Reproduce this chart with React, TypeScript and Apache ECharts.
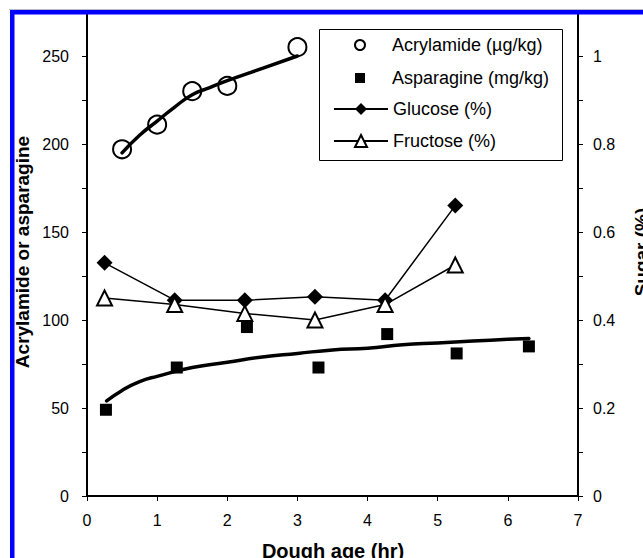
import React, { useEffect, useRef } from "react";
import * as echarts from "echarts";

// Acrylamide (µg/kg) measured points
const acrylamideHours = [0.5, 1, 1.5, 2, 3];
const acrylamideValues = [197, 211, 230, 233, 255];
// Acrylamide trend line
const acrylamideTrendHours = [0.5, 0.75, 1, 1.25, 1.5, 1.75, 2, 2.5, 3];
const acrylamideTrendValues = [195, 205, 213, 221, 228, 232, 236, 243, 250];

// Asparagine (mg/kg) measured points
const asparagineHours = [0.27, 1.28, 2.28, 3.3, 4.28, 5.27, 6.3];
const asparagineValues = [49, 73, 96, 73, 92, 81, 85];
// Asparagine trend line
const asparagineTrendHours = [0.28, 0.5, 0.75, 1, 1.5, 2, 2.5, 3, 3.5, 4, 4.5, 5, 5.5, 6, 6.3];
const asparagineTrendValues = [54, 60, 65, 68, 73, 76, 79, 81, 83, 84, 86, 87, 88, 89, 89.5];

// Sugars (%)
const sugarHours = [0.25, 1.25, 2.25, 3.25, 4.25, 5.25];
const glucoseValues = [0.53, 0.445, 0.445, 0.453, 0.445, 0.66];
const fructoseValues = [0.45, 0.435, 0.415, 0.4, 0.435, 0.525];

const xTicks = [0, 1, 2, 3, 4, 5, 6, 7];

const NAMES = {
  acryl: "Acrylamide (µg/kg)",
  aspar: "Asparagine (mg/kg)",
  glu: "Glucose (%)",
  fru: "Fructose (%)",
};

const pairs = (xs: number[], ys: number[]) => xs.map((x, i) => [x, ys[i]]);

const FONT = "'Liberation Sans', Arial, sans-serif";

export default function App() {
  const ref = useRef<HTMLDivElement>(null);

  useEffect(() => {
    if (!ref.current) return;
    const chart = echarts.init(ref.current, undefined, { renderer: "svg" });
    const axisLabelBase = { color: "#000", fontSize: 16, fontFamily: FONT };
    const tickBase = { show: true, length: 5, lineStyle: { color: "#000", width: 1 } };
    const legendText = { color: "#000", fontSize: 18, fontFamily: FONT };

    chart.setOption({
      animation: false,
      backgroundColor: "#fff",
      grid: { left: 87, right: 65, top: 12, bottom: 62, outerBoundsMode: "none" },
      xAxis: {
        type: "value",
        min: xTicks[0],
        max: xTicks[xTicks.length - 1],
        interval: 1,
        axisLine: { show: true, lineStyle: { color: "#000", width: 2 } },
        axisTick: tickBase,
        splitLine: { show: false },
        axisLabel: { ...axisLabelBase, margin: 16 },
      },
      yAxis: [
        {
          type: "value",
          position: "left",
          min: 0,
          max: 275,
          interval: 25,
          axisLine: { show: true, lineStyle: { color: "#000", width: 2 } },
          axisTick: tickBase,
          splitLine: { show: false },
          axisLabel: {
            ...axisLabelBase,
            margin: 18,
            formatter: (v: number) => (Math.round(v) % 50 === 0 && v <= 250 ? String(Math.round(v)) : ""),
          },
        },
        {
          type: "value",
          position: "right",
          min: 0,
          max: 1.1,
          interval: 0.1,
          axisLine: { show: true, lineStyle: { color: "#000", width: 2 } },
          axisTick: tickBase,
          splitLine: { show: false },
          axisLabel: {
            ...axisLabelBase,
            margin: 15,
            formatter: (v: number) => {
              const t = Math.round(v * 10);
              return t % 2 === 0 && t <= 10 ? String(t / 10) : "";
            },
          },
        },
      ],
      legend: [
        {
          data: [
            { name: NAMES.acryl },
            { name: NAMES.aspar, icon: "path://M0,0L10,0L10,10L0,10Z" },
          ],
          orient: "vertical",
          left: 354,
          top: 36,
          padding: 0,
          itemWidth: 54,
          itemHeight: 10,
          itemGap: 15,
          selectedMode: false,
          textStyle: legendText,
        },
        {
          data: [NAMES.glu, NAMES.fru],
          orient: "vertical",
          left: 333,
          top: 100,
          padding: 0,
          itemWidth: 54,
          itemHeight: 15,
          itemGap: 14,
          selectedMode: false,
          textStyle: legendText,
        },
      ],
      series: [
        {
          name: NAMES.acryl,
          type: "scatter",
          yAxisIndex: 0,
          symbol: "circle",
          symbolSize: 18,
          itemStyle: { color: "#fff", borderColor: "#000", borderWidth: 2, opacity: 1 },
          data: pairs(acrylamideHours, acrylamideValues),
        },
        {
          name: "Acrylamide trend",
          type: "line",
          yAxisIndex: 0,
          smooth: true,
          symbol: "none",
          lineStyle: { color: "#000", width: 3.5, cap: "round" },
          data: pairs(acrylamideTrendHours, acrylamideTrendValues),
        },
        {
          name: "Asparagine trend",
          type: "line",
          yAxisIndex: 0,
          smooth: true,
          symbol: "none",
          lineStyle: { color: "#000", width: 3.5, cap: "round" },
          data: pairs(asparagineTrendHours, asparagineTrendValues),
        },
        {
          name: NAMES.aspar,
          type: "scatter",
          yAxisIndex: 0,
          symbol: "rect",
          symbolSize: 12,
          itemStyle: { color: "#000", opacity: 1 },
          data: pairs(asparagineHours, asparagineValues),
        },
        {
          name: NAMES.glu,
          type: "line",
          yAxisIndex: 1,
          symbol: "diamond",
          symbolSize: 16,
          showAllSymbol: true,
          itemStyle: { color: "#000" },
          lineStyle: { color: "#000", width: 1.5 },
          data: pairs(sugarHours, glucoseValues),
        },
        {
          name: NAMES.fru,
          type: "line",
          yAxisIndex: 1,
          symbol: "triangle",
          symbolSize: 15,
          showAllSymbol: true,
          itemStyle: { color: "#fff", borderColor: "#000", borderWidth: 2 },
          lineStyle: { color: "#000", width: 1.5 },
          data: pairs(sugarHours, fructoseValues),
        },
      ],
      graphic: [
        {
          type: "rect",
          z: 50,
          shape: { x: 319.5, y: 29.5, width: 243, height: 131 },
          style: { fill: "none", stroke: "#000", lineWidth: 1 },
        },
        {
          type: "text",
          z: 50,
          x: 22,
          y: 252,
          rotation: Math.PI / 2,
          style: {
            text: "Acrylamide or asparagine",
            fill: "#000",
            font: `bold 19px ${FONT}`,
            align: "center",
            verticalAlign: "middle",
          },
        },
        {
          type: "text",
          z: 50,
          x: 641,
          y: 252,
          rotation: Math.PI / 2,
          style: {
            text: "Sugar (%)",
            fill: "#000",
            font: `bold 19px ${FONT}`,
            align: "center",
            verticalAlign: "middle",
          },
        },
        {
          type: "text",
          z: 50,
          x: 333,
          y: 541,
          style: {
            text: "Dough age (hr)",
            fill: "#000",
            font: `bold 20px ${FONT}`,
            align: "center",
            verticalAlign: "top",
          },
        },
        {
          type: "rect",
          z: 100,
          shape: { x: 9, y: 9, width: 634, height: 1 },
          style: { fill: "#b8b8c8" },
        },
        {
          type: "rect",
          z: 100,
          shape: { x: 10, y: 10, width: 633, height: 4.5 },
          style: { fill: "#0000ff" },
        },
        {
          type: "rect",
          z: 100,
          shape: { x: 10, y: 10, width: 4.5, height: 548 },
          style: { fill: "#0000ff" },
        },
      ],
    });

    return () => chart.dispose();
  }, []);

  return (
    <div
      ref={ref}
      style={{ position: "absolute", left: 0, top: 0, width: 643, height: 558, background: "#fff" }}
    />
  );
}
